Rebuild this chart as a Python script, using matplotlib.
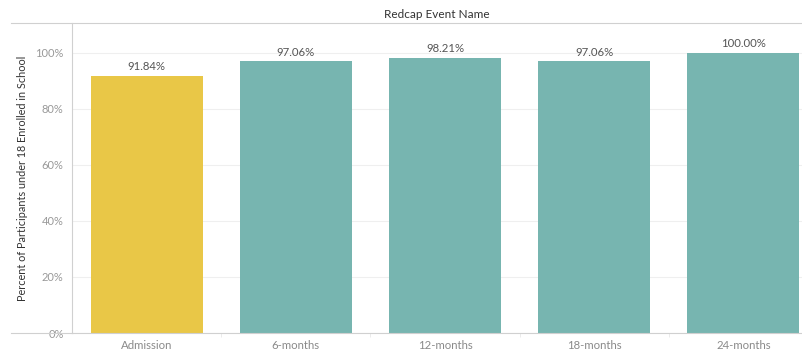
import matplotlib.pyplot as plt
from matplotlib.ticker import FixedLocator, FuncFormatter
from matplotlib.lines import Line2D

# Enrollment by follow-up event
events = ['Admission', '6-months', '12-months', '18-months', '24-months']
percents = [91.84, 97.06, 98.21, 97.06, 100.00]
bar_colors = ['#E9C747', '#77B5B0', '#77B5B0', '#77B5B0', '#77B5B0']
y_ticks = [0, 20, 40, 60, 80, 100]

plt.rcParams['font.family'] = ['Lato', 'DejaVu Sans']
text_gray = '#555555'
tick_gray = '#999999'
line_gray = '#d0d0d0'

fig = plt.figure(figsize=(8.03, 3.5), dpi=100)
# axes runs a little past the right edge of the figure
ax = fig.add_axes([72 / 803, 17 / 350, 746 / 803, 310 / 350])

x = list(range(len(events)))
ax.bar(x, percents, width=0.75, color=bar_colors, zorder=2)

for xi, p in zip(x, percents):
    ax.text(xi, p + 1.3, f'{p:.2f}%', ha='center', va='bottom',
            fontsize=8.2, color=text_gray)

ax.set_xlim(-0.5, 4.5)
ax.set_ylim(0, 110.7)
ax.yaxis.set_major_locator(FixedLocator(y_ticks))
ax.yaxis.set_major_formatter(FuncFormatter(lambda v, pos: f'{v:.0f}%'))
ax.grid(axis='y', color='#efefef', linewidth=0.8, zorder=0)
ax.set_axisbelow(True)

ax.set_xticks(x)
ax.set_xticklabels(events)
ax.xaxis.set_minor_locator(FixedLocator([0.5, 1.5, 2.5, 3.5]))
ax.tick_params(axis='x', which='major', length=0, labelsize=8.2,
               labelcolor='#8a8a8a', pad=5)
ax.tick_params(axis='x', which='minor', length=3, color='#e8e8e8')
ax.tick_params(axis='y', length=0, labelsize=8, labelcolor=tick_gray, pad=6)

for side in ['top', 'right']:
    ax.spines[side].set_visible(False)
ax.spines['left'].set_color(line_gray)
ax.spines['bottom'].set_color(line_gray)
ax.spines['left'].set_linewidth(0.8)
ax.spines['bottom'].set_linewidth(0.8)

ax.set_ylabel('Percent of Participants under 18 Enrolled in School',
              fontsize=7.8, color='#333333', labelpad=5)

# header line and bottom rule extend left past the y axis
fig.add_artist(Line2D([11 / 803, 1], [1 - 23 / 350, 1 - 23 / 350],
                      color=line_gray, linewidth=0.8))
fig.add_artist(Line2D([11 / 803, 72 / 803], [17 / 350, 17 / 350],
                      color=line_gray, linewidth=0.8))
fig.text(437 / 803, 1 - 14 / 350, 'Redcap Event Name', ha='center',
         va='center', fontsize=8.5, color='#333333')

fig.savefig('out.png', dpi=100)
